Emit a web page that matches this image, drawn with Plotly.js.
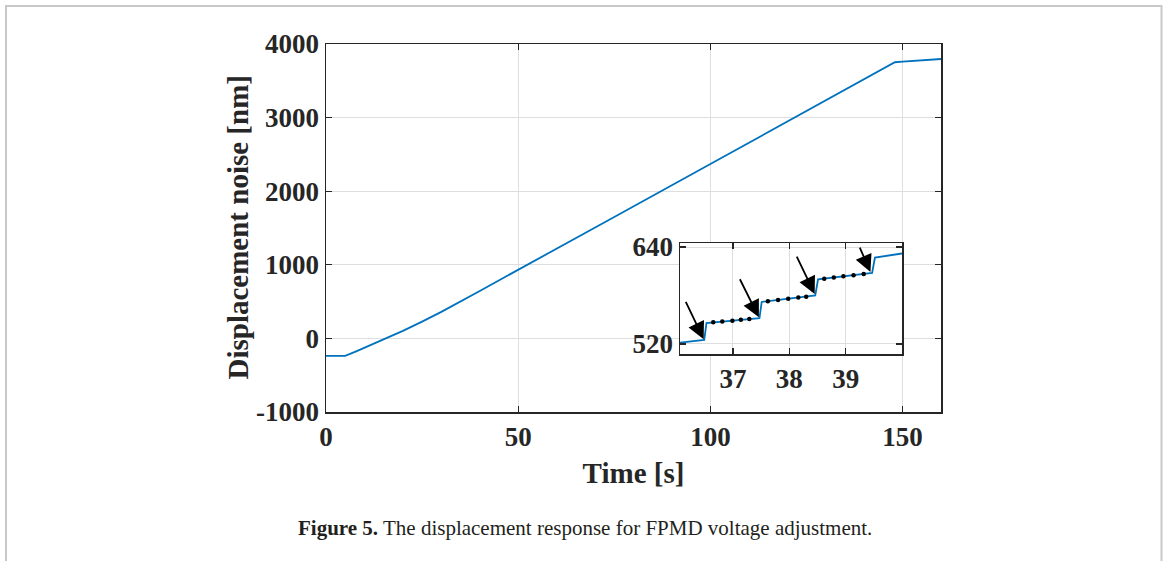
<!DOCTYPE html>
<html>
<head>
<meta charset="utf-8">
<script src="https://cdn.plot.ly/plotly-3.0.1.min.js"></script>
<style>
html,body{margin:0;padding:0;background:#fff;}
#chart{width:1168px;height:561px;}
</style>
</head>
<body>
<div id="chart"></div>
<script>
// Main curve: time [s] vs displacement [nm]
const timeS  = [0, 5, 8, 12, 16, 20, 25, 30, 40, 50, 60, 75, 100, 125, 140, 148, 150, 155, 160];
const dispNm = [-237, -237, -172, -83, 9, 103, 228, 360, 645, 935, 1220, 1650, 2370, 3090, 3520, 3752, 3760, 3778, 3796];

// Inset: zoomed step response
const insetT = [36.05, 36.49, 36.53, 37.47, 37.51, 38.46, 38.51, 39.47, 39.52, 40.0];
const insetY = [521.6, 525, 546, 552, 572, 580, 600, 608, 627, 632];

// Inset sample dots
const dotT = [36.65, 36.81, 36.99, 37.14, 37.29, 37.62, 37.80, 37.98, 38.16, 38.30, 38.62, 38.79, 38.96, 39.14, 39.32];
const dotY = [546.8, 547.8, 548.9, 549.9, 550.9, 572.9, 574.4, 575.9, 577.4, 578.6, 600.8, 602.3, 603.7, 605.2, 606.7];

// Arrows (tail -> tip) in inset data coordinates
const arrowTailT = [36.15, 37.11, 38.12, 39.24];
const arrowTailY = [574, 602, 630, 641];
const arrowTipT  = [36.48, 37.46, 38.45, 39.44];
const arrowTipY  = [526, 553, 582, 609];

// Tick values and labels
const mainXTicks = [0, 50, 100, 150];
const mainYTicks = [-1000, 0, 1000, 2000, 3000, 4000];
const mainYLabels = ['-1000', '0', '1000', '2000', '3000', '4000'];
const insetXTicks = [37, 38, 39];
const insetYTicks = [520, 640];

const FONT = 'Liberation Serif, Times New Roman, serif';
const INK = '#262626';
const BLUE = '#0072BD';
const GRID = '#dedede';

const traces = [
  {x: timeS, y: dispNm, type: 'scatter', mode: 'lines', xaxis: 'x', yaxis: 'y',
   line: {color: BLUE, width: 1.8}, hoverinfo: 'skip'},
  {x: insetT, y: insetY, type: 'scatter', mode: 'lines', xaxis: 'x2', yaxis: 'y2',
   line: {color: BLUE, width: 1.8}, hoverinfo: 'skip'},
  {x: dotT, y: dotY, type: 'scatter', mode: 'markers', xaxis: 'x2', yaxis: 'y2',
   marker: {color: '#000', size: 4.5}, hoverinfo: 'skip'}
];

function axisCommon(extra) {
  return Object.assign({
    ticks: 'inside', ticklen: 6, tickwidth: 1.3, tickcolor: INK,
    showline: true, linecolor: INK, linewidth: 1.5, mirror: 'ticks',
    showgrid: true, gridcolor: GRID, gridwidth: 1, zeroline: false,
    tickfont: {family: FONT, size: 27, color: INK, weight: 'bold'},
    fixedrange: true
  }, extra);
}

const px = v => (v - 326) / 615;
const py = v => (412 - v) / 368;

const annotations = arrowTailT.map((_, i) => ({
  xref: 'x2', yref: 'y2', axref: 'x2', ayref: 'y2',
  x: arrowTipT[i], y: arrowTipY[i], ax: arrowTailT[i], ay: arrowTailY[i],
  text: '', showarrow: true, arrowhead: 2, arrowsize: 1.9, arrowwidth: 1.8, arrowcolor: '#000'
}));
annotations.push({
  xref: 'paper', yref: 'paper', x: px(237.5), y: py(228), xanchor: 'center', yanchor: 'middle',
  textangle: -90, showarrow: false,
  text: '<b>Displacement noise [nm]</b>',
  font: {family: FONT, size: 29, color: INK}
});
annotations.push({
  xref: 'paper', yref: 'paper', x: px(584.5), y: py(528), xanchor: 'center', yanchor: 'middle',
  showarrow: false,
  text: '<b>Figure 5.</b> The displacement response for FPMD voltage adjustment.',
  font: {family: FONT, size: 21, color: '#231f20'}
});

const FRAME = '#c8c8c8';
const shapes = [
  {type: 'line', xref: 'paper', yref: 'paper', x0: px(5), x1: px(1162), y0: py(6), y1: py(6), line: {color: FRAME, width: 2}},
  {type: 'line', xref: 'paper', yref: 'paper', x0: px(6), x1: px(6), y0: py(5), y1: py(565), line: {color: FRAME, width: 2}},
  {type: 'line', xref: 'paper', yref: 'paper', x0: px(1161.5), x1: px(1161.5), y0: py(5), y1: py(565), line: {color: FRAME, width: 2}}
];

const layout = {
  width: 1168, height: 561,
  margin: {l: 326, r: 227, t: 44, b: 149},
  paper_bgcolor: '#fff', plot_bgcolor: '#fff',
  showlegend: false,
  xaxis: axisCommon({range: [0, 160], tickvals: mainXTicks,
    title: {text: '<b>Time [s]</b>', font: {family: FONT, size: 29, color: INK}, standoff: 12}}),
  yaxis: axisCommon({range: [-1000, 4000], tickvals: mainYTicks, ticktext: mainYLabels}),
  xaxis2: axisCommon({domain: [px(680), px(902)], anchor: 'y2', range: [36.06, 40], tickvals: insetXTicks}),
  yaxis2: axisCommon({domain: [py(354), py(243)], anchor: 'x2', range: [507.6, 645], tickvals: insetYTicks}),
  annotations: annotations,
  shapes: shapes
};

Plotly.newPlot('chart', traces, layout, {displayModeBar: false, staticPlot: true});
</script>
</body>
</html>
